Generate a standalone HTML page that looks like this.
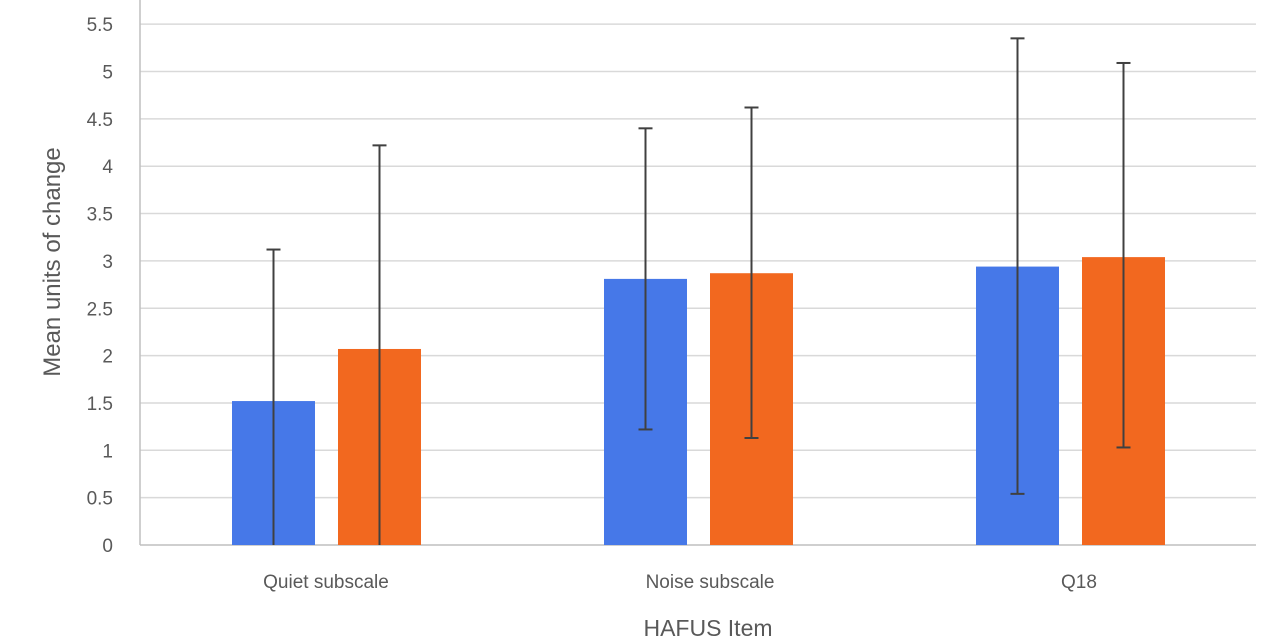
<!DOCTYPE html>
<html><head><meta charset="utf-8"><style>
body{margin:0;background:#fff;}
svg{display:block;font-family:"Liberation Sans",sans-serif;}
</style></head><body>
<svg id="chart" width="1280" height="640"></svg>
<script>
const categories=["Quiet subscale","Noise subscale","Q18"];
const seriesA=[1.52,2.81,2.94];
const seriesB=[2.07,2.87,3.04];
const upperA=[3.12,4.40,5.35];
const lowerA=[0,1.22,0.54];
const upperB=[4.22,4.62,5.09];
const lowerB=[0,1.13,1.03];
const ticks=[0,0.5,1,1.5,2,2.5,3,3.5,4,4.5,5,5.5];
const tickLabels=["0","0.5","1","1.5","2","2.5","3","3.5","4","4.5","5","5.5"];
const NS="http://www.w3.org/2000/svg";
const svg=document.getElementById('chart');
const x0=140,x1=1256,yBase=545,perUnit=94.7;
const y=v=>yBase-v*perUnit;
const bandW=(x1-x0)/categories.length;
const xc=i=>x0+bandW*(i+0.5);
const labelShift=[0,12,9];
function mk(t,a){const e=document.createElementNS(NS,t);for(const k in a)e.setAttribute(k,a[k]);svg.appendChild(e);return e;}
ticks.forEach((t,i)=>{
 if(t>0){const g=mk('line',{x1:x0,x2:x1,y1:y(t),y2:y(t),stroke:'#d9d9d9','stroke-width':1.5});
 
 }
 const l=mk('text',{x:113,y:y(t)+7,'text-anchor':'end','font-size':19,fill:'#595959'});
 l.textContent=tickLabels[i];
 
 
});
const ax=mk('line',{x1:x0,x2:x0,y1:0,y2:yBase,stroke:'#bfbfbf','stroke-width':1.5});


const bx=mk('line',{x1:x0,x2:x1,y1:yBase,y2:yBase,stroke:'#bfbfbf','stroke-width':1.5});


const bw=83;
function series(vals,up,lo,off,color,name){
 vals.forEach((v,i)=>{
  const cx=xc(i)+off;
  const r=mk('rect',{x:cx-bw/2,y:y(v),width:bw,height:yBase-y(v),fill:color});
  
  
  const e=mk('line',{x1:cx,x2:cx,y1:y(up[i]),y2:y(lo[i]),stroke:'#404040','stroke-width':2});
  
  
  [up[i],lo[i]].forEach(q=>{if(q>0){const c=mk('line',{x1:cx-7,x2:cx+7,y1:y(q),y2:y(q),stroke:'#404040','stroke-width':2});
   
   }});
 });
}
series(seriesA,upperA,lowerA,-52.5,'#4678e8','blue');
series(seriesB,upperB,lowerB,53.5,'#f2681f','orange');
categories.forEach((c,i)=>{
 const t=mk('text',{x:xc(i)+labelShift[i],y:588,'text-anchor':'middle','font-size':19,fill:'#595959'});
 t.textContent=c;
 
 
});
const xt=mk('text',{x:708,y:636,'text-anchor':'middle','font-size':23,fill:'#595959'});
xt.textContent='HAFUS Item';


const yt=mk('text',{x:0,y:0,'text-anchor':'middle','font-size':24,fill:'#595959',transform:'translate(60,262) rotate(-90)'});
yt.textContent='Mean  units of change';


</script>
</body></html>
